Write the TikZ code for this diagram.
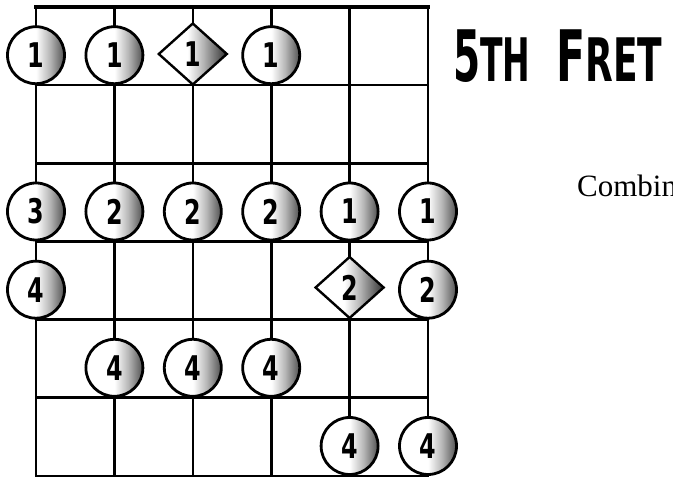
\documentclass[tikz,border=0pt]{standalone}
\usepackage{fontspec}
\usepackage{graphicx}
\setmainfont{Liberation Serif}
\newfontfamily\djv{DejaVu Sans}
\usetikzlibrary{shapes.geometric}
\pgfdeclarehorizontalshading{ballshade}{100bp}{color(0bp)=(white); color(50bp)=(white); color(62bp)=(black!28); color(75bp)=(black!68); color(100bp)=(black!68)}
\pgfdeclarehorizontalshading{diashade}{100bp}{color(0bp)=(white); color(46bp)=(white); color(58bp)=(black!30); color(72bp)=(black!72); color(100bp)=(black!72)}
\newcommand\digfont{\djv\bfseries\fontsize{34}{34}\selectfont}
\newcommand\sd[1]{\scalebox{0.7}[1]{#1}}
\begin{document}
\begin{tikzpicture}[x=1pt,y=-1pt,
  gridline/.style={line width=2.6pt, line cap=rect},
  dot/.style={circle, draw, line width=2.8pt, minimum size=57pt, inner sep=0pt, shading=ballshade, font=\digfont},
  dia/.style={diamond, draw, line width=2.4pt, minimum width=69pt, minimum height=62pt, inner sep=0pt, shading=diashade, font=\digfont},
  title/.style={anchor=base west, inner sep=0pt, font=\djv\bfseries}]
\useasboundingbox (0,0) rectangle (673,478);
\fill[white] (0,0) rectangle (673,478);
\clip (0,0) rectangle (673,478);
% grid coordinates
\foreach \i/\x in {1/36,2/114.4,3/192.8,4/271.2,5/349.6,6/428}{
  \coordinate (t\i) at (\x,7);
  \coordinate (b\i) at (\x,476);
}
\foreach \j/\y in {0/7,1/85.2,2/163.3,3/241.5,4/319.7,5/397.8,6/476}{
  \coordinate (l\j) at (36,\y);
  \coordinate (r\j) at (428,\y);
}
\foreach \i in {1,...,6}{\draw[gridline] (t\i) -- (b\i);}
\foreach \j in {0,...,6}{\draw[gridline] (l\j) -- (r\j);}
\draw[line width=3.2pt, line cap=rect] (l0) -- (r0);
% row 1
\node[dot] (a1) at (36,55.2) {\sd{1}};
\node[dot] (a2) at (114.4,55.2) {\sd{1}};
\node[dia] (a3) at (192.8,54) {\sd{1}};
\node[dot] (a4) at (271.2,55.2) {\sd{1}};
% row 3
\node[dot] (c1) at (36,211.5) {\sd{3}};
\node[dot] (c2) at (114.4,211.5) {\sd{2}};
\node[dot] (c3) at (192.8,211.5) {\sd{2}};
\node[dot] (c4) at (271.2,211.5) {\sd{2}};
\node[dot] (c5) at (349.6,211.5) {\sd{1}};
\node[dot] (c6) at (428,211.5) {\sd{1}};
% row 4
\node[dot] (d1) at (36,289.7) {\sd{4}};
\node[dia] (d5) at (349.6,287.5) {\sd{2}};
\node[dot] (d6) at (428,289.7) {\sd{2}};
% row 5
\node[dot] (e2) at (114.4,367.8) {\sd{4}};
\node[dot] (e3) at (192.8,367.8) {\sd{4}};
\node[dot] (e4) at (271.2,367.8) {\sd{4}};
% row 6
\node[dot] (f5) at (349.6,446) {\sd{4}};
\node[dot] (f6) at (428,446) {\sd{4}};
% title
\node[title] (tt1) at (453,82) {\scalebox{0.55}[1]{\fontsize{71}{71}\selectfont 5\fontsize{60}{60}\selectfont TH}};
\node[title] (tt2) at (556,82) {\scalebox{0.6}[1]{\fontsize{71}{71}\selectfont F\fontsize{60}{60}\selectfont RET}};
% side text
\node[anchor=base west, inner sep=0pt, font=\fontsize{31}{31}\selectfont] (cmb) at (577,197) {Combin};
\end{tikzpicture}
\end{document}
